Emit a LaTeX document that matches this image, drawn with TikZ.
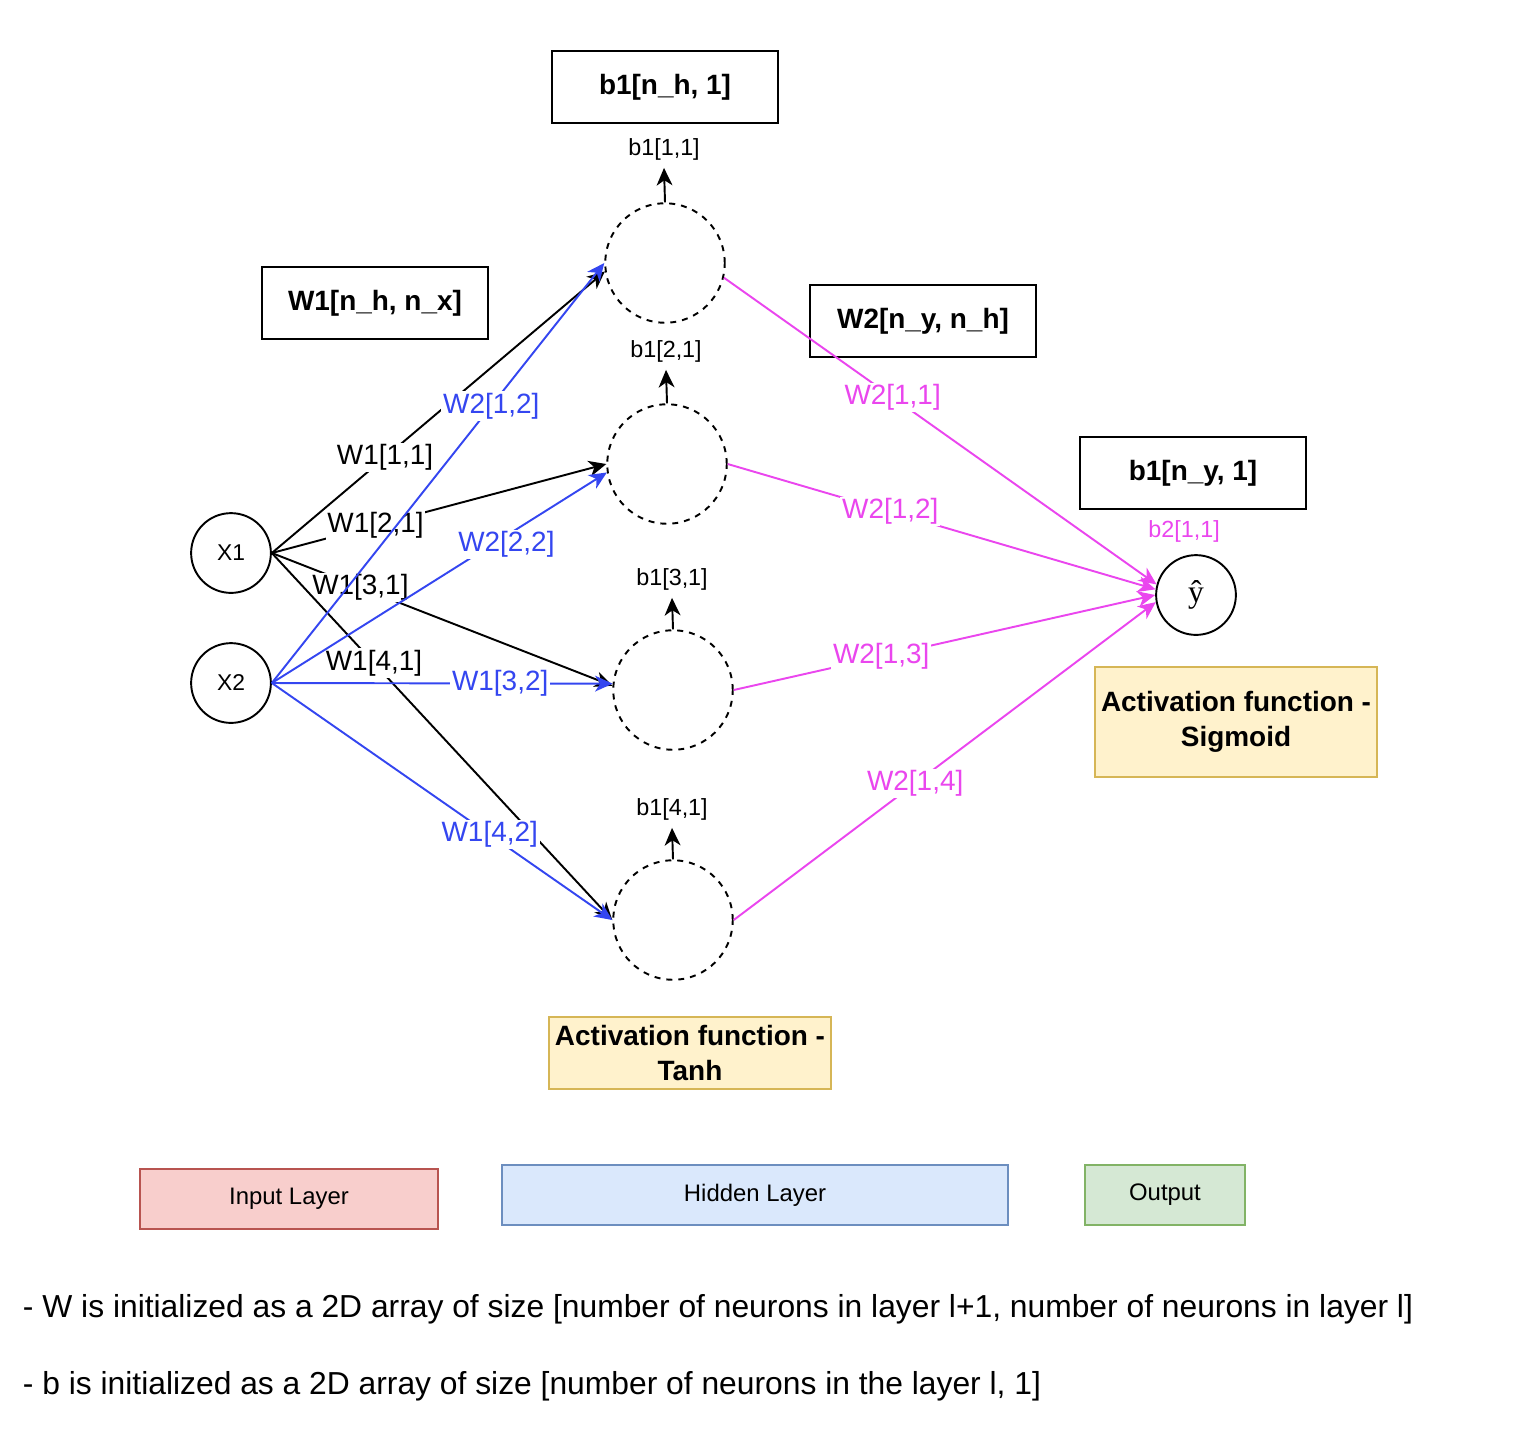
\documentclass[tikz,border=0pt]{standalone}
\usepackage{fontspec}
\setmainfont{Liberation Sans}
\newfontfamily\hatfont{Liberation Serif}
\usetikzlibrary{arrows.meta}
\definecolor{wblue}{HTML}{3446F0}
\definecolor{wpink}{HTML}{EA46EE}
\definecolor{actfill}{HTML}{FFF2CC}
\definecolor{actdraw}{HTML}{D6B656}
\definecolor{infill}{HTML}{F8CECC}
\definecolor{indraw}{HTML}{B85450}
\definecolor{hidfill}{HTML}{DAE8FC}
\definecolor{hiddraw}{HTML}{6C8EBF}
\definecolor{outfill}{HTML}{D5E8D4}
\definecolor{outdraw}{HTML}{82B366}
\begin{document}
\begin{tikzpicture}[x=0.02cm, y=-0.02cm, line width=1.1pt, >={Stealth[length=10pt, width=9pt, inset=3pt]},
    shapebox/.style={draw, minimum width=129pt, minimum height=41pt, font=\fontsize{15.9}{19}\selectfont\bfseries},
    actbox/.style={draw=actdraw, fill=actfill, minimum width=157.6pt, align=center, font=\fontsize{15.9}{19.8}\selectfont\bfseries},
    neuron/.style={draw, circle, dash pattern=on 3.4pt off 3.4pt, minimum size=68pt, inner sep=0pt},
    innode/.style={draw, circle, minimum size=45.4pt, inner sep=0pt, font=\fontsize{13}{15}\selectfont},
    wlab/.style={fill=white, inner sep=1pt, font=\fontsize{15.9}{19}\selectfont},
    blab/.style={inner sep=4pt, font=\fontsize{13.3}{16}\selectfont},
    legend/.style={minimum height=34pt, font=\fontsize{13.6}{16}\selectfont},
    note/.style={anchor=west, inner sep=0pt, font=\fontsize{18.1}{22}\selectfont}]
    \useasboundingbox (0,0) rectangle (1520,1438);

    \node (bh) [shapebox] at (665,87) {b1[n\_h, 1]};
    \node (wx) [shapebox] at (375,303) {W1[n\_h, n\_x]};
    \node (wh) [shapebox] at (923,321) {W2[n\_y, n\_h]};
    \node (by) [shapebox] at (1193,473) {b1[n\_y, 1]};

    \node (x1) [innode] at (231,553) {X1};
    \node (x2) [innode] at (231,683) {X2};

    \node (h1) [neuron] at (665,263) {};
    \node (h2) [neuron] at (667,464) {};
    \node (h3) [neuron] at (673,690) {};
    \node (h4) [neuron] at (673,920) {};

    \node (bl1) [blab] at (664,149) {b1[1,1]};
    \node (bl2) [blab] at (666,351) {b1[2,1]};
    \node (bl3) [blab] at (672,579) {b1[3,1]};
    \node (bl4) [blab] at (672,809) {b1[4,1]};
    \draw[->] (h1.north) -- (bl1.south);
    \draw[->] (h2.north) -- (bl2.south);
    \draw[->] (h3.north) -- (bl3.south);
    \draw[->] (h4.north) -- (bl4.south);

    \node (yhat) [draw, circle, minimum size=45.4pt, inner sep=0pt, font=\fontsize{18}{20}\selectfont\hatfont] at (1196,595) {ŷ};
    \node (bo) [blab, text=wpink] at (1184,531) {b2[1,1]};

    \node (sig) [actbox, minimum height=62.4pt] at (1236,722) {Activation function -\\Sigmoid};
    \node (tanh) [actbox, minimum height=41pt] at (690,1053) {Activation function -\\Tanh};

    \draw[->] (x1.east) -- node[wlab, pos=0.34] {W1[1,1]} (h1.188);
    \draw[->] (x1.east) -- node[wlab, pos=0.31] {W1[2,1]} (h2.west);
    \draw[->] (x1.east) -- node[wlab, pos=0.26] {W1[3,1]} (h3.176);
    \draw[->] (x1.east) -- node[wlab, pos=0.30] {W1[4,1]} (h4.west);

    \draw[->, wblue] (x2.east) -- node[wlab, pos=0.66] {W2[1,2]} (h1.west);
    \draw[->, wblue] (x2.east) -- node[wlab, pos=0.70, yshift=-5pt] {W2[2,2]} (h2.188);
    \draw[->, wblue] (x2.east) -- node[wlab, pos=0.67] {W1[3,2]} (h3.174);
    \draw[->, wblue] (x2.east) -- node[wlab, pos=0.64] {W1[4,2]} (h4.west);

    \draw[->, wpink] (h1.-14) -- node[wlab, pos=0.39] {W2[1,1]} (yhat.165);
    \draw[->, wpink] (h2.east) -- node[wlab, pos=0.38] {W2[1,2]} (yhat.172);
    \draw[->, wpink] (h3.east) -- node[wlab, pos=0.35] {W2[1,3]} (yhat.west);
    \draw[->, wpink] (h4.east) -- node[wlab, pos=0.43] {W2[1,4]} (yhat.190);

    \node (lin) [legend, draw=indraw, fill=infill, minimum width=170pt] at (289,1199) {Input Layer};
    \node (lhid) [legend, draw=hiddraw, fill=hidfill, minimum width=288pt] at (755,1195) {Hidden Layer};
    \node (lout) [legend, draw=outdraw, fill=outfill, minimum width=90.7pt] at (1165,1195) {Output};

    \node (nw) [note] at (22,1309) {- W is initialized as a 2D array of size [number of neurons in layer l+1, number of neurons in layer l]};
    \node (nb) [note] at (22,1386) {- b is initialized as a 2D array of size [number of neurons in the layer l, 1]};
\end{tikzpicture}
\end{document}
